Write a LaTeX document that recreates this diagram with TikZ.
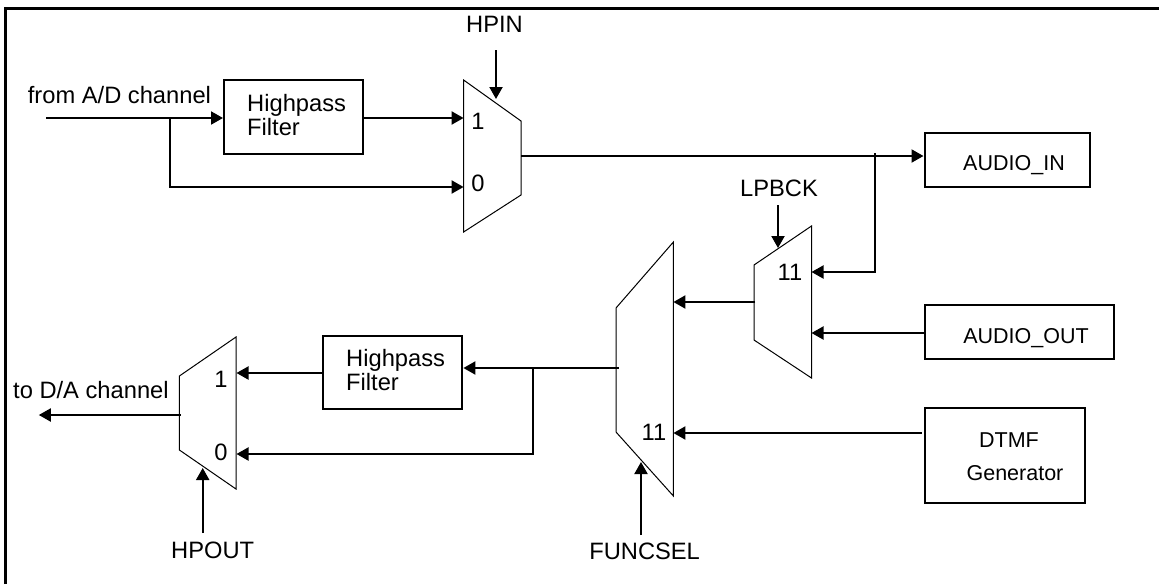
\documentclass[tikz,border=0pt]{standalone}
\usepackage{fontspec}
\setmainfont{Liberation Sans}
\usetikzlibrary{arrows.meta}
\begin{document}
\begin{tikzpicture}[x=1pt,y=-1pt,
  conn/.style={line width=2pt,-{Triangle[length=12pt,width=13pt]}},
  wire/.style={line width=2pt},
  muxshape/.style={line width=1pt,line join=miter},
  blk/.style={draw,line width=2pt,inner sep=0pt},
  lbl/.style={inner sep=0pt,font=\fontsize{23.7}{28}\selectfont},
  blbl/.style={inner sep=0pt,font=\fontsize{21.5}{25}\selectfont}]
\useasboundingbox (0,0) rectangle (1159,584);
% frame (only top and left visible)
\draw[line width=2.5pt] (5.7,584) -- (5.7,8.5) -- (1159,8.5);

% ---------- blocks ----------
\node[blk,minimum width=139pt,minimum height=74pt] (f1) at (293.5,117) {};
\node[blk,minimum width=165.5pt,minimum height=54pt] (ain) at (1007.25,160) {};
\node[blk,minimum width=189pt,minimum height=54pt] (aout) at (1019,332) {};
\node[blk,minimum width=160.5pt,minimum height=95pt] (dtmf) at (1004.75,455.5) {};
\node[blk,minimum width=139.4pt,minimum height=73pt] (f2) at (392.7,372.5) {};

% ---------- multiplexers ----------
\draw[muxshape] (463.6,80) -- (521,121) -- (521,195) -- (463.6,232) -- cycle;
\draw[muxshape] (754,265) -- (811.5,226) -- (811.5,378) -- (754,340) -- cycle;
\draw[muxshape] (616,308) -- (673.4,242) -- (673.4,496) -- (616,432) -- cycle;
\draw[muxshape] (179.4,376) -- (236,337) -- (236,489) -- (179.4,450) -- cycle;

% mux ports
\coordinate (m1in1) at (463.6,118);
\coordinate (m1in0) at (463.6,187);
\coordinate (m1sel) at (496,99);
\coordinate (m1out) at (521,156);
\coordinate (m2in11) at (811.5,272);
\coordinate (m2inb) at (811.5,333);
\coordinate (m2sel) at (778,248);
\coordinate (m2out) at (755,302);
\coordinate (m3ina) at (673.4,302);
\coordinate (m3in11) at (673.4,433);
\coordinate (m3sel) at (641,462);
\coordinate (m3out) at (618.5,368);
\coordinate (m4in1) at (236.5,373);
\coordinate (m4in0) at (236.5,454);
\coordinate (m4sel) at (202.7,468);
\coordinate (m4out) at (180.5,415);

% free ends / junctions
\coordinate (adin) at (46,118);
\coordinate (b1) at (170,118);
\coordinate (hpinS) at (496,50);
\coordinate (b2top) at (875,153);
\coordinate (b2) at (875,272);
\coordinate (lpS) at (778,205);
\coordinate (dtmfS) at (921.6,433);
\coordinate (fsS) at (641,535);
\coordinate (b3) at (532.7,368);
\coordinate (daout) at (38.8,415);
\coordinate (hpoS) at (202.7,533);

% ---------- connectors ----------
\draw[conn] (adin) -- (f1.west |- adin);
\draw[conn] (b1) |- (m1in0);
\draw[conn] (f1.east |- m1in1) -- (m1in1);
\draw[conn] (hpinS) -- (m1sel);
\draw[conn] (m1out) -- (ain.west |- m1out);
\draw[conn] (b2top) -- (b2) -- (m2in11);
\draw[conn] (lpS) -- (m2sel);
\draw[conn] (aout.west |- m2inb) -- (m2inb);
\draw[conn] (m2out) -- (m3ina);
\draw[conn] (dtmfS) -- (m3in11);
\draw[conn] (fsS) -- (m3sel);
\draw[wire] (m3out) -- (b3);
\draw[conn] (b3) -- (f2.east |- b3);
\draw[conn] (b3) |- (m4in0);
\draw[conn] (f2.west |- m4in1) -- (m4in1);
\draw[conn] (m4out) -- (daout);
\draw[conn] (hpoS) -- (m4sel);

% ---------- labels ----------
\node[lbl,anchor=base] (tHPIN) at (494.5,32) {HPIN};
\node[lbl,anchor=base west] (tAD) at (27.7,103.5) {from A/D channel};
\node[lbl,anchor=base west] (tF1a) at (247,111) {Highpass};
\node[lbl,anchor=base west] (tF1b) at (247,135) {Filter};
\node[lbl,anchor=base] (tM1a) at (478,129) {1};
\node[lbl,anchor=base] (tM1b) at (478,191.7) {0};
\node[blbl,anchor=base] (tAIN) at (1014,170) {AUDIO\_IN};
\node[lbl,anchor=base] (tLP) at (779,196) {LPBCK};
\node[lbl,anchor=base] (tM2) at (790,280) {11};
\node[blbl,anchor=base] (tAOUT) at (1026,343.3) {AUDIO\_OUT};
\node[blbl,anchor=base] (tDTMF) at (1009,447.7) {DTMF};
\node[blbl,anchor=base] (tGEN) at (1015,480) {Generator};
\node[lbl,anchor=base] (tM3) at (654,440) {11};
\node[lbl,anchor=base] (tFS) at (644.6,559.3) {FUNCSEL};
\node[lbl,anchor=base west] (tDA) at (13,398) {to D/A channel};
\node[lbl,anchor=base west] (tF2a) at (346,366.7) {Highpass};
\node[lbl,anchor=base west] (tF2b) at (346,390) {Filter};
\node[lbl,anchor=base] (tM4a) at (221,387) {1};
\node[lbl,anchor=base] (tM4b) at (221,460) {0};
\node[lbl,anchor=base] (tHPOUT) at (212.7,558) {HPOUT};
\end{tikzpicture}
\end{document}
